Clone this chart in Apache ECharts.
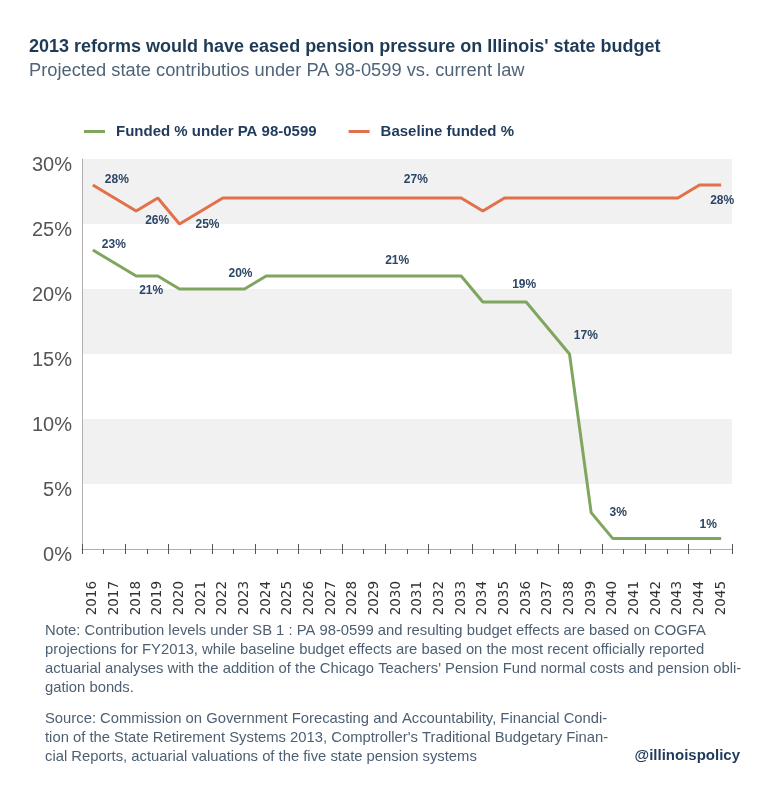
<!DOCTYPE html>
<html>
<head>
<meta charset="utf-8">
<script src="https://cdn.jsdelivr.net/npm/echarts@6/dist/echarts.min.js"></script>
<style>
html,body{margin:0;padding:0;background:#fff;}
#c{width:768px;height:786px;}
</style>
</head>
<body>
<div id="c"></div>
<script>
// ---- data ----
var years = ['2016','2017','2018','2019','2020','2021','2022','2023','2024','2025','2026','2027','2028','2029','2030','2031','2032','2033','2034','2035','2036','2037','2038','2039','2040','2041','2042','2043','2044','2045'];
var fundedPA = [23,22,21,21,20,20,20,20,21,21,21,21,21,21,21,21,21,21,19,19,19,17,15,2.8,0.8,0.8,0.8,0.8,0.8,0.8];
var baseline = [28,27,26,27,25,26,27,27,27,27,27,27,27,27,27,27,27,27,26,27,27,27,27,27,27,27,27,27,28,28];
var yTicks = [0,5,10,15,20,25,30];
var seriesNames = ['Funded % under PA 98-0599','Baseline funded %'];

// label placements (style): index -> offset
var fundedLabels = {0:[21,-5],2:[15,15],7:[-4,-15],14:[1,-15],20:[-2,-17],21:[38,8],23:[27,0],29:[-13,-14]};
var baseLabels = {0:[24,-5],2:[21,10],4:[28,1],15:[-2,-18],29:[1,16]};

function build(vals, labels){
  return vals.map(function(v,i){
    var o = {value:v};
    if (labels[i]) {
      o.label = {show:true, position:'inside', offset:labels[i]};
    }
    return o;
  });
}

var FONT = '"Liberation Sans", Arial, sans-serif';
var labelStyle = {
  show:false,
  formatter:function(p){return Math.round(p.value)+'%';},
  color:'#2b4566', fontSize:12, fontWeight:'bold', fontFamily:FONT
};

var chart = echarts.init(document.getElementById('c'));
chart.setOption({
  backgroundColor:'#ffffff',
  animation:false,
  textStyle:{fontFamily:FONT},
  legend:{
    left:79, top:119,
    itemWidth:21, itemHeight:3, itemGap:32,
    icon:'rect',
    textStyle:{color:'#1f3a5a', fontSize:15, fontWeight:'bold', fontFamily:FONT, padding:[0,0,0,6]},
    data:seriesNames
  },
  grid:{left:82, right:36, top:159, bottom:237},
  xAxis:[{
    type:'category', data:years, boundaryGap:true,
    axisLine:{show:true, lineStyle:{color:'#b0b0b0', width:1}},
    axisTick:{show:true, length:5, lineStyle:{color:'#555', width:1}},
    axisLabel:{rotate:90, margin:32, color:'#333', fontSize:13.5, fontFamily:'"DejaVu Sans", sans-serif', interval:0}
  },{
    type:'category', data:years, boundaryGap:true, position:'bottom',
    axisLine:{show:false},
    axisTick:{show:true, inside:true, length:5, lineStyle:{color:'#555', width:1}},
    axisLabel:{show:false}
  }],
  yAxis:{
    type:'value', min:0, max:30, interval:5,
    axisLine:{show:true, lineStyle:{color:'#b0b0b0', width:1}},
    axisTick:{show:false},
    splitLine:{show:false},
    splitArea:{show:true, areaStyle:{color:['#ffffff','#f1f1f1']}},
    axisLabel:{formatter:function(v){return v+'%';}, color:'#555', fontSize:20, fontFamily:FONT, margin:10, verticalAlign:'top', lineHeight:12}
  },
  title:[{
    text:'2013 reforms would have eased pension pressure on Illinois\' state budget',
    left:24, top:33,
    textStyle:{color:'#1e3a56', fontSize:18, fontWeight:'bold', fontFamily:FONT}
  },{
    text:'Projected state contributios under PA 98-0599 vs. current law',
    left:24, top:57,
    textStyle:{color:'#4f6379', fontSize:18.3, fontWeight:'normal', fontFamily:FONT}
  }],
  graphic:[{
    type:'text', left:45, top:622,
    style:{
      text:'Note: Contribution levels under SB 1 : PA 98-0599 and resulting budget effects are based on COGFA\nprojections for FY2013, while baseline budget effects are based on the most recent officially reported\nactuarial analyses with the addition of the Chicago Teachers\' Pension Fund normal costs and pension obli-\ngation bonds.',
      fill:'#4d5f72', fontSize:14.8, lineHeight:18.7, fontFamily:FONT
    }
  },{
    type:'text', left:45, top:710,
    style:{
      text:'Source: Commission on Government Forecasting and Accountability, Financial Condi-\ntion of the State Retirement Systems 2013, Comptroller\'s Traditional Budgetary Finan-\ncial Reports, actuarial valuations of the five state pension systems',
      fill:'#4d5f72', fontSize:14.8, lineHeight:18.7, fontFamily:FONT
    }
  },{
    type:'text', right:28, top:748,
    style:{text:'@illinoispolicy', fill:'#1f3a5a', fontSize:15, fontWeight:'bold', fontFamily:FONT}
  }],
  series:[{
    name:seriesNames[0], type:'line', data:build(fundedPA, fundedLabels),
    symbol:'circle', symbolSize:0.1, showSymbol:true,
    lineStyle:{color:'#7fa65e', width:3},
    itemStyle:{color:'#7fa65e'},
    label:labelStyle, z:3
  },{
    name:seriesNames[1], type:'line', data:build(baseline, baseLabels),
    symbol:'circle', symbolSize:0.1, showSymbol:true,
    lineStyle:{color:'#e2704a', width:3},
    itemStyle:{color:'#e2704a'},
    label:labelStyle, z:3
  }]
});
</script>
</body>
</html>
